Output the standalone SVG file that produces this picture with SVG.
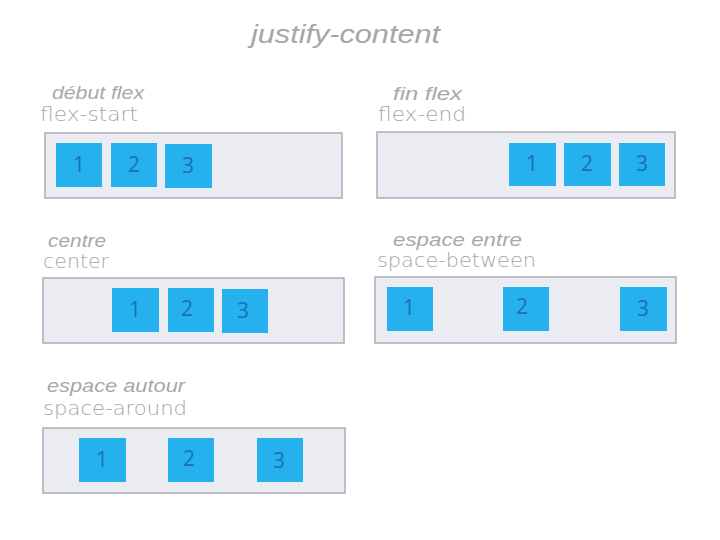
<svg xmlns="http://www.w3.org/2000/svg" width="720" height="540" viewBox="0 0 720 540">
<style>
.bg{fill:#ffffff}
.cont{fill:#ebebf2;stroke:#acacb6;stroke-width:1.5}
.box{fill:#24b1ee}
.num{font-family:"Open Sans","Liberation Sans",sans-serif;font-size:21px;fill:#1d6fb6;text-anchor:middle}
.title{font-family:"Liberation Sans",Arial,sans-serif;font-style:italic;font-size:26px;fill:#a6a6a6}
.fr{font-family:"Liberation Sans",Arial,sans-serif;font-style:italic;font-size:18px;fill:#a8a8a8}
.en{font-family:"DejaVu Sans",sans-serif;font-weight:300;font-size:19px;fill:#a6a6a6}
</style>
<rect class="bg" x="0" y="0" width="720" height="540"/>
<text class="title" x="251" y="43" textLength="189" lengthAdjust="spacingAndGlyphs">justify-content</text>

<g id="flex-start">
<text class="fr" x="52" y="99" textLength="92" lengthAdjust="spacingAndGlyphs">début flex</text>
<text class="en" x="40" y="121" textLength="98" lengthAdjust="spacingAndGlyphs">flex-start</text>
<rect class="cont" x="45" y="133" width="297" height="65"/>
<rect class="box" x="56" y="143" width="46" height="44"/><text class="num" x="79" y="172">1</text>
<rect class="box" x="111" y="143" width="46" height="44"/><text class="num" x="134" y="172">2</text>
<rect class="box" x="165" y="144" width="47" height="44"/><text class="num" x="188" y="173">3</text>
</g>

<g id="flex-end">
<text class="fr" x="393" y="100" textLength="69" lengthAdjust="spacingAndGlyphs">fin flex</text>
<text class="en" x="378" y="121" textLength="88" lengthAdjust="spacingAndGlyphs">flex-end</text>
<rect class="cont" x="377" y="132" width="298" height="66"/>
<rect class="box" x="509" y="143" width="47" height="43"/><text class="num" x="532" y="171">1</text>
<rect class="box" x="564" y="143" width="47" height="43"/><text class="num" x="587" y="171">2</text>
<rect class="box" x="619" y="143" width="46" height="43"/><text class="num" x="642" y="171">3</text>
</g>

<g id="center">
<text class="fr" x="48" y="247" textLength="58" lengthAdjust="spacingAndGlyphs">centre</text>
<text class="en" x="43" y="268" textLength="66" lengthAdjust="spacingAndGlyphs">center</text>
<rect class="cont" x="43" y="278" width="301" height="65"/>
<rect class="box" x="112" y="288" width="47" height="44"/><text class="num" x="135" y="317">1</text>
<rect class="box" x="168" y="288" width="46" height="44"/><text class="num" x="187" y="316">2</text>
<rect class="box" x="222" y="289" width="46" height="44"/><text class="num" x="243" y="318">3</text>
</g>

<g id="space-between">
<text class="fr" x="393" y="246" textLength="129" lengthAdjust="spacingAndGlyphs">espace entre</text>
<text class="en" x="377" y="267" textLength="159" lengthAdjust="spacingAndGlyphs">space-between</text>
<rect class="cont" x="375" y="277" width="301" height="66"/>
<rect class="box" x="387" y="287" width="46" height="44"/><text class="num" x="409" y="315">1</text>
<rect class="box" x="503" y="287" width="46" height="44"/><text class="num" x="522" y="314">2</text>
<rect class="box" x="620" y="287" width="47" height="44"/><text class="num" x="643" y="316">3</text>
</g>

<g id="space-around">
<text class="fr" x="47" y="392" textLength="138" lengthAdjust="spacingAndGlyphs">espace autour</text>
<text class="en" x="43" y="415" textLength="144" lengthAdjust="spacingAndGlyphs">space-around</text>
<rect class="cont" x="43" y="428" width="302" height="65"/>
<rect class="box" x="79" y="438" width="47" height="44"/><text class="num" x="102" y="467">1</text>
<rect class="box" x="168" y="438" width="46" height="44"/><text class="num" x="189" y="466">2</text>
<rect class="box" x="257" y="438" width="46" height="44"/><text class="num" x="279" y="468">3</text>
</g>
</svg>
